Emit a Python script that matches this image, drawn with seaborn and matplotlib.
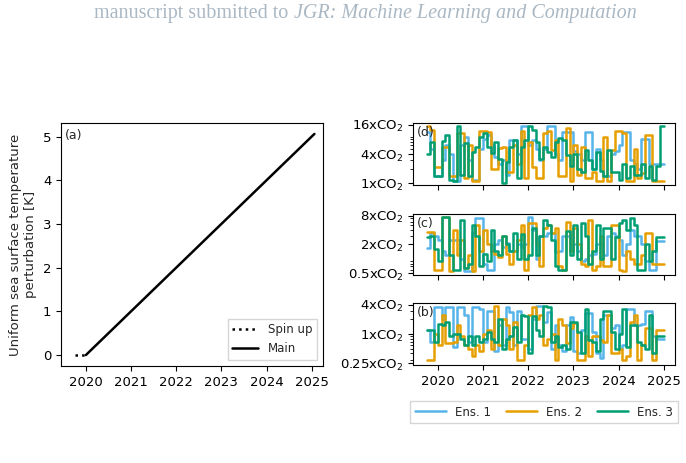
import numpy as np
import pandas as pd
import matplotlib
matplotlib.use("Agg")
import matplotlib.pyplot as plt
import seaborn as sns
from matplotlib.ticker import NullFormatter

# ---------------- data ----------------
spin_years = [2019.75, 2020.0]
spin_temp = [0.0, 0.0]
main_years = [2020.0, 2025.06]
main_temp = [0.0, 5.06]

ens_labels = ["Ens. 1", "Ens. 2", "Ens. 3"]
ens_colors = ["#56B4E9", "#E69F00", "#009E73"]
start_year = 2019.75

# panel (d): 1x-16x CO2
d_ens1 = [11, 5, 1.4, 1.4, 3, 6, 4, 1.1, 1.1, 6,
          9, 3, 1.2, 1.2, 5, 8, 10, 6, 3.5, 2.5,
          3, 1.5, 7.7, 7.7, 4, 15, 15, 6, 7.7, 5,
          3, 5, 15, 15, 4, 3, 11, 11, 11, 4.5,
          4, 3, 11, 11, 2, 5, 3, 1.4, 1.4, 4,
          4.5, 6, 11, 11, 3, 2.5, 2, 8, 8, 2.5,
          2.5, 2.5, 2.5]
d_ens2 = [15, 12.6, 2.2, 2.2, 5.6, 5.6, 1.45, 1.45, 10.7, 10.7,
          1.3, 6.1, 1.1, 1.1, 11.6, 11.6, 11, 2, 2, 5.2,
          5.6, 1.7, 1.7, 6.1, 2.5, 11.6, 1.3, 7.2, 2.2, 1.3,
          1.3, 10.7, 11.6, 4.8, 7.8, 1.45, 1.45, 13.6, 1.1, 6,
          1.5, 5.6, 1.3, 1.3, 1.7, 1.1, 1.1, 9.1, 1.1, 4.8,
          11.6, 11.6, 10.7, 1.1, 1.1, 5, 1.3, 1.6, 10, 10,
          1.1, 1.1, 1.1]
d_ens3 = [4, 7, 1.4, 1.4, 7.5, 10, 1.2, 1.1, 15, 1.5,
          6.6, 1.4, 4.4, 5.6, 9, 10.7, 5.6, 4.1, 7, 3.2,
          1, 2.7, 5.6, 7.7, 1.3, 5.6, 7.7, 15, 12.6, 7,
          3.2, 5.6, 4.4, 3.5, 7, 8.4, 7.7, 3.8, 2.3, 4,
          2, 1.7, 4.8, 3, 2, 4.4, 1.8, 1.4, 4.8, 1.7,
          1.7, 1.2, 2.5, 1.3, 2.3, 1.5, 1.5, 2.5, 1.3, 2.3,
          1.2, 2.3, 15]

# panel (c): 0.5x-8x CO2
c_ens1 = [1.7, 3.5, 3, 2.5, 1.5, 1.2, 2.5, 2.5, 2.5, 1,
          0.55, 0.55, 3.5, 7, 7, 0.8, 0.6, 0.6, 2, 2.5,
          1.8, 2.2, 1.5, 1.5, 2, 1.8, 2, 7.5, 4, 1,
          3, 3, 3.5, 3.5, 1.4, 1.5, 3, 3, 1.5, 2,
          1.5, 0.9, 1, 1.2, 1.3, 2, 2.2, 1.2, 3, 3.5,
          3, 2.5, 1.2, 2, 4, 3, 3, 2, 0.9, 0.6,
          0.6, 2.4, 2.4]
c_ens2 = [3.6, 3.6, 0.6, 0.6, 7.5, 7.5, 0.55, 4, 1.2, 2.5,
          0.65, 1.2, 0.55, 5, 1.5, 4, 2, 1.5, 1.3, 1.1,
          3, 1.3, 0.8, 1.5, 2.5, 5, 0.6, 5.5, 5.5, 2,
          0.7, 4.5, 5, 3.5, 4.5, 0.7, 0.6, 6, 1.5, 4.5,
          2, 0.8, 0.7, 6.5, 0.6, 0.7, 3, 0.7, 0.7, 5,
          5, 0.6, 0.55, 1.5, 1, 0.8, 0.8, 1.2, 3.5, 3.5,
          0.8, 0.8, 0.8]
c_ens3 = [2.9, 3.0, 1.6, 0.9, 7.5, 7.5, 1.2, 0.6, 0.6, 6.5,
          0.65, 0.8, 5, 3, 0.7, 1.3, 0.9, 4, 1.5, 1.2,
          3, 2, 1.5, 3.5, 1, 3.3, 1, 1.2, 4.5, 1.2,
          3, 6.5, 5, 2.5, 0.7, 0.6, 0.6, 3.8, 1.2, 5,
          1, 5.5, 3, 0.8, 1.5, 5, 1, 4.5, 4.5, 1,
          2.8, 5.5, 6.5, 4, 7, 5, 0.6, 0.6, 2, 0.9,
          1.5, 2.8, 2.9]

# panel (b): 0.25x-4x CO2
b_ens1 = [1.2, 0.7, 3.5, 3.5, 2, 3.5, 3.5, 0.55, 3.5, 3.5,
          2.5, 0.7, 3.5, 3.5, 3.3, 0.7, 3, 3, 0.45, 1.5,
          0.6, 3.5, 2.8, 0.6, 3, 0.8, 0.8, 0.5, 2, 3.8,
          3.8, 1.8, 2.8, 0.5, 1.5, 0.6, 0.45, 1.5, 2.2, 0.45,
          0.4, 1.2, 2.7, 2.7, 1.1, 0.4, 0.33, 2.5, 2.5, 1.3,
          1.5, 0.5, 0.6, 3.3, 3.3, 1.5, 1.5, 1.6, 3, 3,
          0.9, 0.8, 0.8]
b_ens2 = [0.3, 0.3, 1, 0.6, 2.5, 0.65, 0.65, 0.7, 1.5, 0.9,
          0.6, 0.5, 0.35, 0.6, 0.45, 1, 1.2, 0.5, 3.8, 0.6,
          2, 1.5, 0.5, 1.8, 0.3, 0.3, 0.6, 2.5, 3.5, 2,
          2.4, 0.6, 0.8, 1, 0.3, 2, 1.5, 0.65, 1.3, 1.7,
          0.3, 0.3, 0.9, 0.35, 0.9, 0.9, 0.75, 0.7, 2.5, 0.4,
          0.4, 0.5, 0.3, 0.35, 1.8, 2.5, 0.3, 0.6, 1.3, 1.3,
          0.3, 1.2, 1.2]
b_ens3 = [1.2, 1.2, 0.7, 1.6, 1.5, 1.8, 0.9, 1, 1, 0.8,
          0.6, 0.9, 0.6, 0.9, 0.7, 0.8, 1.1, 0.8, 0.7, 2,
          0.5, 0.8, 0.9, 1.4, 0.7, 2.5, 2.3, 0.4, 2.3, 1.2,
          0.9, 3.8, 3.6, 0.7, 0.9, 0.55, 0.6, 0.5, 1.8, 1.8,
          1.1, 0.4, 3.2, 0.75, 0.7, 0.45, 2, 3, 3, 1.1,
          0.5, 1, 3.3, 0.55, 1.5, 1.5, 0.7, 0.6, 0.5, 2.5,
          0.4, 0.9, 0.9]

panel_d_ticks = [1, 4, 16]
panel_d_labels = ["1xCO$_2$", "4xCO$_2$", "16xCO$_2$"]
panel_c_ticks = [0.5, 2, 8]
panel_c_labels = ["0.5xCO$_2$", "2xCO$_2$", "8xCO$_2$"]
panel_b_ticks = [0.25, 1, 4]
panel_b_labels = ["0.25xCO$_2$", "1xCO$_2$", "4xCO$_2$"]
year_ticks = [2020, 2021, 2022, 2023, 2024, 2025]

# ---------------- style ----------------
sns.set_style("ticks")
plt.rcParams["font.family"] = ["DejaVu Sans"]
plt.rcParams["xtick.labelsize"] = 9.5
plt.rcParams["ytick.labelsize"] = 9.5
plt.rcParams["axes.edgecolor"] = "black"
plt.rcParams["xtick.color"] = "black"
plt.rcParams["ytick.color"] = "black"
plt.rcParams["xtick.direction"] = "out"
plt.rcParams["ytick.direction"] = "out"

fig = plt.figure(figsize=(6.86, 4.63), dpi=100)

XLIM = (2019.45, 2025.25)

# header
hdr_font = ["Liberation Serif", "DejaVu Serif"]
fig.text(0.428, 0.971, "manuscript submitted to ", ha="right", va="center",
         fontsize=14.5, color="#aab8c4", family=hdr_font)
fig.text(0.428, 0.971, "JGR: Machine Learning and Computation", ha="left", va="center",
         fontsize=14.5, color="#aab8c4", style="italic", family=hdr_font)

# ---------------- left panel ----------------
axa = fig.add_axes([61 / 686, 1 - 366 / 463, 262 / 686, 243 / 463])
sns.lineplot(x=spin_years, y=spin_temp, ax=axa, color="black", linestyle=":",
             linewidth=1.8, label="Spin up")
sns.lineplot(x=main_years, y=main_temp, ax=axa, color="black", linestyle="-",
             linewidth=1.8, label="Main")
axa.set_xlim(*XLIM)
axa.set_ylim(-0.25, 5.31)
axa.set_xticks(year_ticks)
axa.set_yticks([0, 1, 2, 3, 4, 5])
axa.set_ylabel("Uniform sea surface temperature\nperturbation [K]", fontsize=9.5)
axa.text(0.015, 0.975, "(a)", transform=axa.transAxes, ha="left", va="top", fontsize=9)
axa.legend(loc="lower right", fontsize=8.5, frameon=True, fancybox=False,
           edgecolor="#cccccc", handlelength=2.2)

# ---------------- right panels ----------------
def panel(rect, series, ticks, labels, ylim, letter, show_x):
    ax = fig.add_axes(rect)
    n = len(series[0])
    years = start_year + np.arange(n + 1) / 12.0
    for vals, col, lab in zip(series, ens_colors, ens_labels):
        v = list(vals) + [vals[-1]]
        df = pd.DataFrame({"year": years, "val": v})
        sns.lineplot(data=df, x="year", y="val", ax=ax, color=col, linewidth=1.8,
                     drawstyle="steps-post", estimator=None, label=lab, legend=False)
    ax.set_yscale("log")
    ax.set_ylim(*ylim)
    ax.set_yticks(ticks)
    ax.set_yticklabels(labels)
    ax.yaxis.set_minor_formatter(NullFormatter())
    ax.set_xlim(*XLIM)
    ax.set_xticks(year_ticks)
    if not show_x:
        ax.set_xticklabels([])
    ax.set_xlabel("")
    ax.set_ylabel("")
    ax.text(0.015, 0.95, letter, transform=ax.transAxes, ha="left", va="top", fontsize=9)
    return ax

w = 262 / 686
x0 = 413 / 686
axd = panel([x0, 1 - 185 / 463, w, 62 / 463], [d_ens1, d_ens2, d_ens3],
            panel_d_ticks, panel_d_labels, (0.93, 17.2), "(d)", False)
axc = panel([x0, 1 - 275 / 463, w, 61 / 463], [c_ens1, c_ens2, c_ens3],
            panel_c_ticks, panel_c_labels, (0.465, 8.6), "(c)", False)
axb = panel([x0, 1 - 365 / 463, w, 62 / 463], [b_ens1, b_ens2, b_ens3],
            panel_b_ticks, panel_b_labels, (0.2325, 4.3), "(b)", True)

handles, labs = axb.get_legend_handles_labels()
fig.legend(handles, labs, loc="center", bbox_to_anchor=(544 / 686, 1 - 412 / 463),
           ncol=3, fontsize=8.5, frameon=True, fancybox=False, edgecolor="#cccccc",
           handlelength=2.6, columnspacing=1.25, handletextpad=0.8)

fig.savefig("out.png", dpi=100)
